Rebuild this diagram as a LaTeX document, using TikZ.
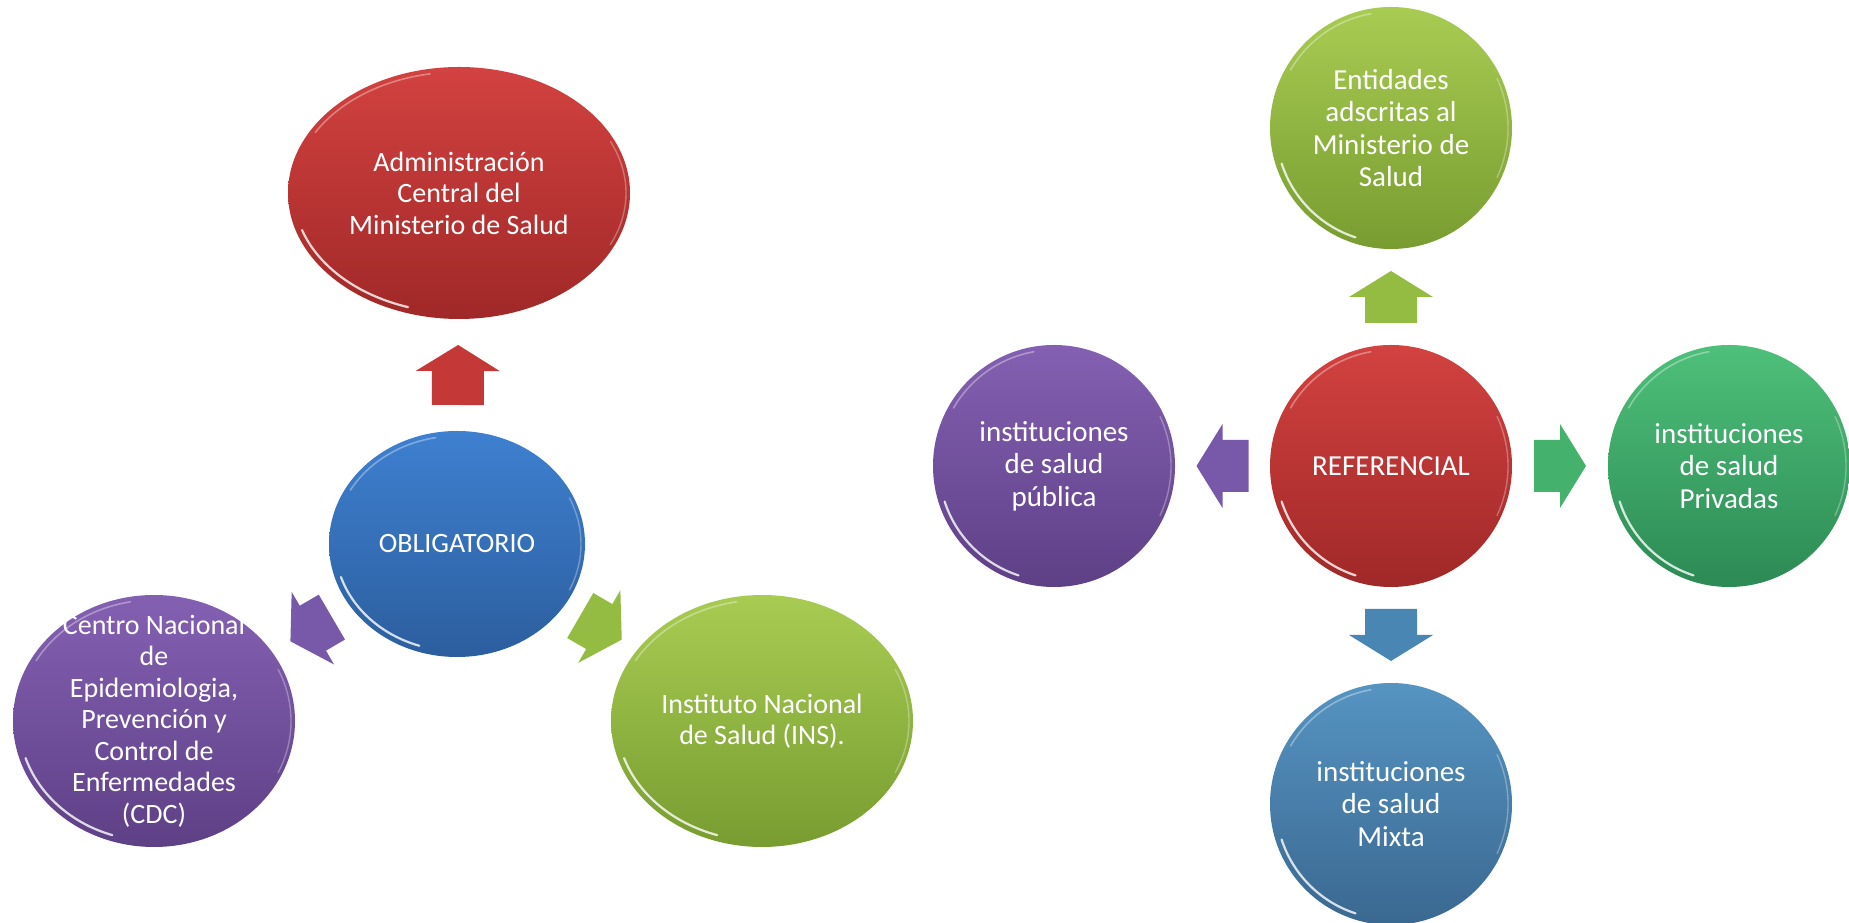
\documentclass[tikz,border=0pt]{standalone}
\usepackage{fontspec}
\setmainfont{Carlito}
\usetikzlibrary{shapes.geometric}
\definecolor{redT}{RGB}{210,66,64}
\definecolor{redB}{RGB}{160,40,40}
\definecolor{bluT}{RGB}{62,128,208}
\definecolor{bluB}{RGB}{44,94,158}
\definecolor{purT}{RGB}{132,96,178}
\definecolor{purB}{RGB}{94,64,134}
\definecolor{limT}{RGB}{168,204,82}
\definecolor{limB}{RGB}{120,156,48}
\definecolor{grnT}{RGB}{78,192,122}
\definecolor{grnB}{RGB}{44,138,84}
\definecolor{stlT}{RGB}{86,148,194}
\definecolor{stlB}{RGB}{58,104,144}
\definecolor{redA}{RGB}{196,56,56}
\definecolor{purA}{RGB}{120,88,168}
\definecolor{limA}{RGB}{148,188,66}
\definecolor{grnA}{RGB}{68,178,108}
\definecolor{stlA}{RGB}{74,134,180}
\newcommand\glossrim[3]{%
  \draw[white, opacity=.8, line width=2.2pt, line cap=round] (#1.center) ++(198:{#2-6} and {#3-6}) arc[start angle=198, end angle=252, x radius={#2-6}, y radius={#3-6}];
  \draw[white, opacity=.35, line width=1.6pt, line cap=round] (#1.center) ++(100:{#2-5} and {#3-5}) arc[start angle=100, end angle=150, x radius={#2-5}, y radius={#3-5}];
  \draw[white, opacity=.3, line width=1.4pt, line cap=round] (#1.center) ++(-25:{#2-4} and {#3-4}) arc[start angle=-25, end angle=25, x radius={#2-4}, y radius={#3-4}];
}
\tikzset{pics/blockarrow/.style={code={
  \path[pic actions] ({#1/2},0) -- ({#1/2-26},42) -- ({#1/2-26},26) -- ({-#1/2},26) -- ({-#1/2},-26) -- ({#1/2-26},-26) -- ({#1/2-26},-42) -- cycle;
}}}
\begin{document}
\begin{tikzpicture}[x=1pt,y=1pt,
  bubble/.style={ellipse, inner sep=0pt, draw=none},
  ltxt/.style={text=white, align=center, inner sep=0pt, font=\fontsize{28}{31.5}\selectfont},
  rtxt/.style={text=white, align=center, inner sep=0pt, font=\fontsize{29}{32.5}\selectfont},
  onpath/.style={sloped, allow upside down, pos=0.5}]
\useasboundingbox (0,0) rectangle (1849,923);
\fill[white] (0,0) rectangle (1849,923);

% ---------- left diagram ----------
\node[bubble, minimum width=342pt, minimum height=252pt, top color=redT, bottom color=redB] (adm) at (459,730) {};
\node[bubble, minimum width=256pt, minimum height=226pt, top color=bluT, bottom color=bluB] (obl) at (457,379) {};
\node[bubble, minimum width=282pt, minimum height=252pt, top color=purT, bottom color=purB] (cdc) at (154,202) {};
\node[bubble, minimum width=302pt, minimum height=252pt, top color=limT, bottom color=limB] (ins) at (762,202) {};
\glossrim{adm}{171}{126}
\glossrim{obl}{128}{113}
\glossrim{cdc}{141}{126}
\glossrim{ins}{151}{126}

\node[ltxt] (adm-t) at (adm) {Administración\\Central del\\Ministerio de Salud};
\node[ltxt] (obl-t) at (obl) {OBLIGATORIO};
\node[ltxt] (cdc-t) at (cdc) {Centro Nacional\\de\\Epidemiologia,\\Prevención y\\Control de\\Enfermedades\\(CDC)};
\node[ltxt] (ins-t) at (ins) {Instituto Nacional\\de Salud (INS).};

\path (obl) -- (adm) pic[onpath, fill=redA] {blockarrow=60};
\path (obl) -- (cdc) pic[onpath, fill=purA] {blockarrow=48};
\path (obl) -- (ins) pic[onpath, fill=limA] {blockarrow=48};

% ---------- right diagram ----------
\node[bubble, minimum width=242pt, minimum height=242pt, top color=limT, bottom color=limB] (ent) at (1391,795) {};
\node[bubble, minimum width=242pt, minimum height=242pt, top color=redT, bottom color=redB] (ref) at (1391,457) {};
\node[bubble, minimum width=242pt, minimum height=242pt, top color=purT, bottom color=purB] (pub) at (1054,457) {};
\node[bubble, minimum width=242pt, minimum height=242pt, top color=grnT, bottom color=grnB] (pri) at (1729,457) {};
\node[bubble, minimum width=242pt, minimum height=242pt, top color=stlT, bottom color=stlB] (mix) at (1391,119) {};
\glossrim{ent}{121}{121}
\glossrim{ref}{121}{121}
\glossrim{pub}{121}{121}
\glossrim{pri}{121}{121}
\glossrim{mix}{121}{121}

\node[rtxt] (ent-t) at (ent) {Entidades\\adscritas al\\Ministerio de\\Salud};
\node[rtxt] (ref-t) at (ref) {REFERENCIAL};
\node[rtxt] (pub-t) at (pub) {instituciones\\de salud\\pública};
\node[rtxt] (pri-t) at (pri) {instituciones\\de salud\\Privadas};
\node[rtxt] (mix-t) at (mix) {instituciones\\de salud\\Mixta};

\path (ref) -- (ent) pic[onpath, fill=limA] {blockarrow=52};
\path (ref) -- (pub) pic[onpath, fill=purA] {blockarrow=52};
\path (ref) -- (pri) pic[onpath, fill=grnA] {blockarrow=52};
\path (ref) -- (mix) pic[onpath, fill=stlA] {blockarrow=52};
\end{tikzpicture}
\end{document}
